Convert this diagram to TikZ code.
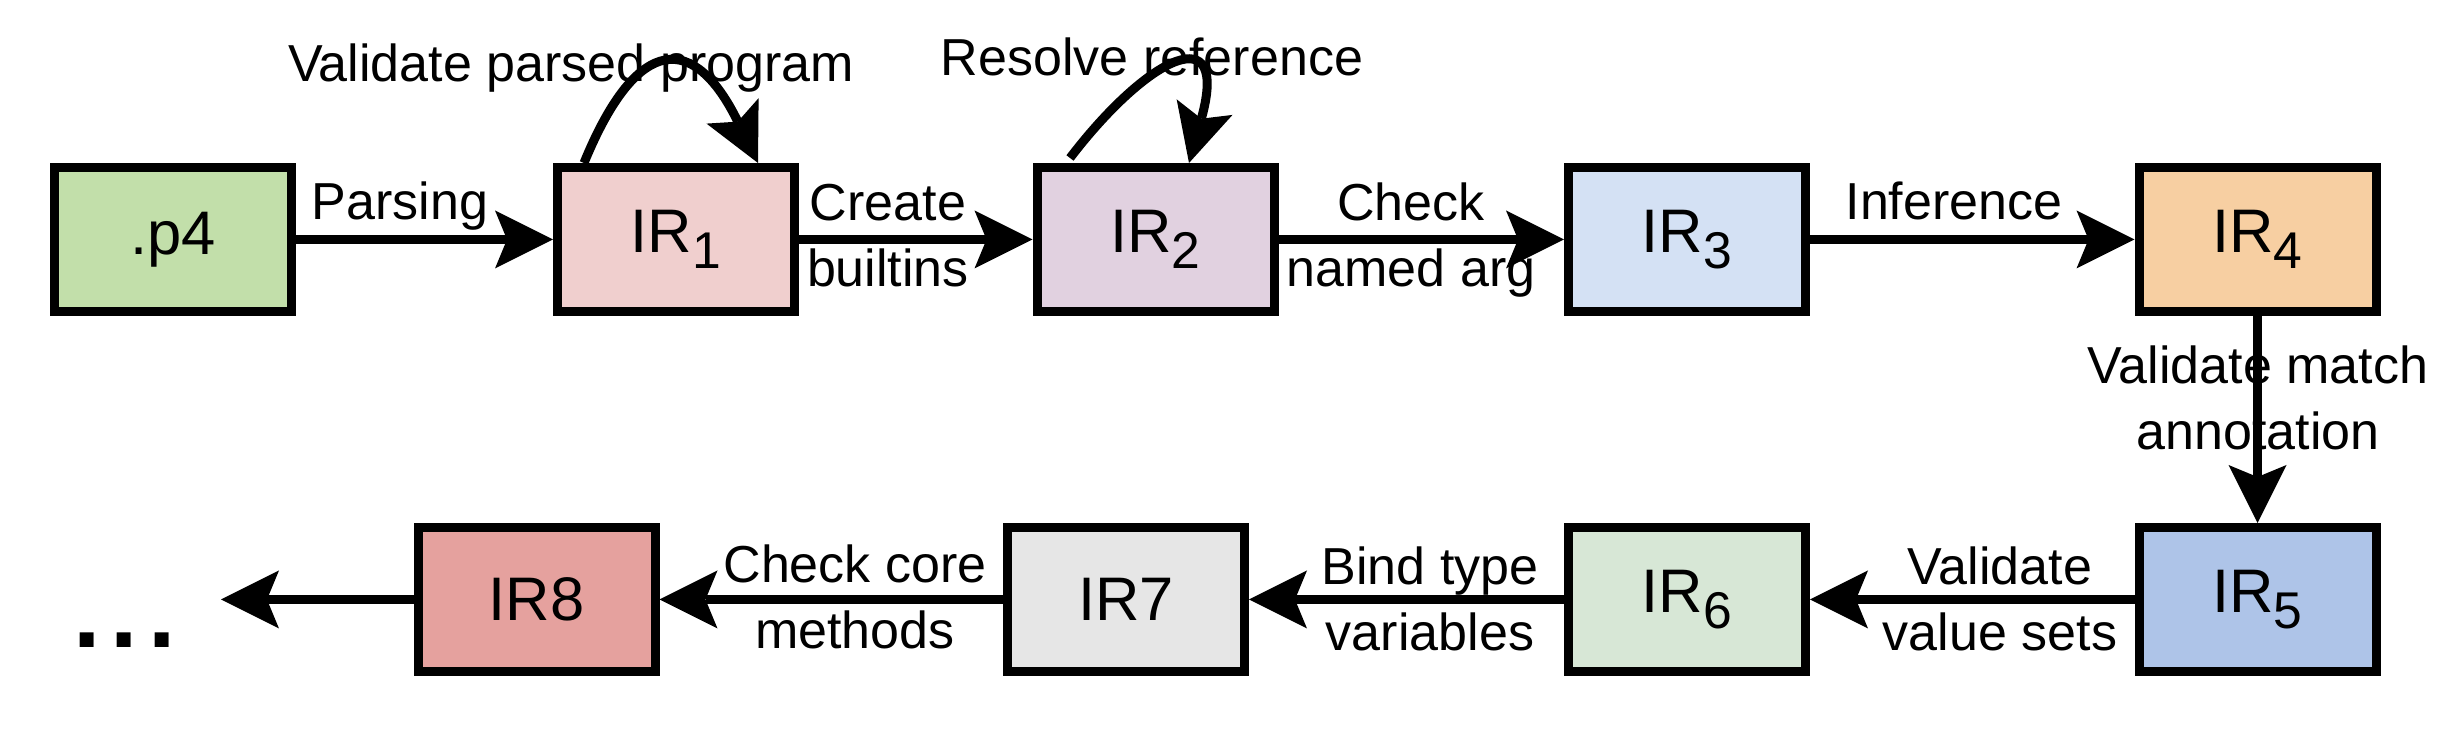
\documentclass[tikz,border=0pt]{standalone}
\usepackage{fontspec}
\setmainfont{Liberation Sans}
\usetikzlibrary{arrows.meta}
\definecolor{cpfour}{HTML}{C2DFAA}
\definecolor{cirone}{HTML}{F0CFCE}
\definecolor{cirtwo}{HTML}{E1D1E0}
\definecolor{cirthree}{HTML}{D4E1F4}
\definecolor{cirfour}{HTML}{F7CFA2}
\definecolor{cirfive}{HTML}{AEC4E8}
\definecolor{cirsix}{HTML}{D7E7D6}
\definecolor{cirseven}{HTML}{E6E6E6}
\definecolor{cireight}{HTML}{E5A19E}
\newcommand\irsub[1]{\raisebox{-4.5pt}{\fontsize{14.7}{16}\selectfont #1}}
\begin{document}
\begin{tikzpicture}[
  box/.style={draw=black, line width=0.09cm, minimum width=2.37cm, minimum height=1.44cm, inner sep=0pt, font=\fontsize{17.5}{21}\selectfont},
  lab/.style={font=\fontsize{14.8}{19}\selectfont, align=center, inner sep=0pt, anchor=base},
  arr/.style={line width=0.09cm, -{Stealth[length=5.8mm,width=5.8mm,inset=1.2mm,line width=0pt]}},
]
\useasboundingbox[fill=white] (0,0) rectangle (24.5,-7.46);

% boxes
\node[box, fill=cpfour]   (p4)  at (1.73,-2.395)   {.p4};
\node[box, fill=cirone]   (ir1) at (6.76,-2.395)   {IR\irsub{1}};
\node[box, fill=cirtwo]   (ir2) at (11.555,-2.395) {IR\irsub{2}};
\node[box, fill=cirthree] (ir3) at (16.87,-2.395)  {IR\irsub{3}};
\node[box, fill=cirfour]  (ir4) at (22.575,-2.395) {IR\irsub{4}};
\node[box, fill=cirfive]  (ir5) at (22.575,-5.995) {IR\irsub{5}};
\node[box, fill=cirsix]   (ir6) at (16.87,-5.995)  {IR\irsub{6}};
\node[box, fill=cirseven] (ir7) at (11.26,-5.995)  {IR7};
\node[box, fill=cireight] (ir8) at (5.365,-5.995)  {IR8};
\coordinate (endpt) at (2.21,-5.995);

% labels (base anchor = baseline of the last line)
\node[lab] (lparse)  at (4.00,-2.20)  {Parsing};
\node[lab] (lcreate) at (8.88,-2.87)  {Create\\builtins};
\node[lab] (lcheck)  at (14.11,-2.87) {Check\\named arg};
\node[lab] (linf)    at (19.54,-2.20) {Inference};
\node[lab] (lmatch)  at (22.58,-4.50) {Validate match\\annotation};
\node[lab] (lvs)     at (20.00,-6.51) {Validate\\value sets};
\node[lab] (lbind)   at (14.30,-6.51) {Bind type\\variables};
\node[lab] (lcore)   at (8.55,-6.49)  {Check core\\methods};
\node[lab] (lval)    at (5.71,-0.82)  {Validate parsed program};
\node[lab] (lres)    at (11.52,-0.76) {Resolve reference};
\node[anchor=base, inner sep=0pt, font=\fontsize{28}{30}\selectfont\bfseries] (dots) at (1.245,-6.48) {.\kern0.1cm.\kern0.1cm.};

% connectors
\draw[arr] (p4) -- (ir1);
\draw[arr] (ir1) -- (ir2);
\draw[arr] (ir2) -- (ir3);
\draw[arr] (ir3) -- (ir4);
\draw[arr] (ir4) -- (ir5);
\draw[arr] (ir5) -- (ir6);
\draw[arr] (ir6) -- (ir7);
\draw[arr] (ir7) -- (ir8);
\draw[arr] (ir8) -- (endpt);

% self loops
\coordinate (la) at ([xshift=-0.92cm]ir1.north);
\coordinate (lb) at ([xshift=0.82cm]ir1.north);
\draw[arr] (la) .. controls (6.38,-0.31) and (6.95,-0.34) .. (lb);
\coordinate (ma) at ([xshift=-0.855cm,yshift=0.05cm]ir2.north);
\coordinate (mb) at ([xshift=0.335cm]ir2.north);
\draw[arr] (ma) .. controls (11.48,-0.56) and (12.30,-0.16) .. (mb);
\end{tikzpicture}
\end{document}
